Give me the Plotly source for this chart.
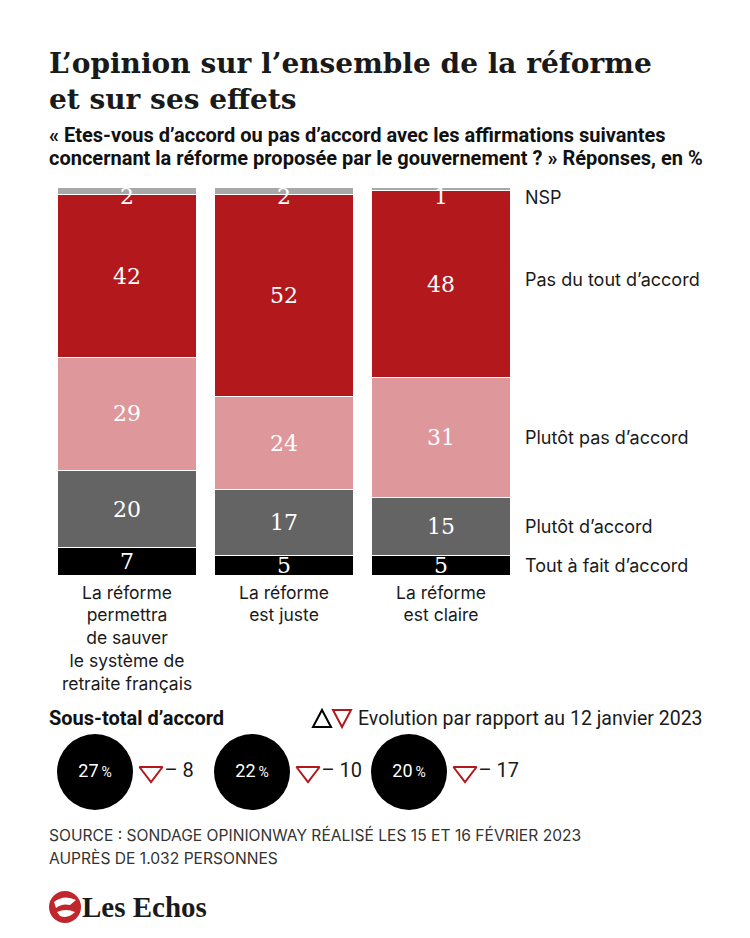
import plotly.graph_objects as go

# ---------------- data ----------------
categories = [
    "La réforme<br>permettra<br>de sauver<br>le système de<br>retraite français",
    "La réforme<br>est juste",
    "La réforme<br>est claire",
]
series_names = ["Tout à fait d’accord", "Plutôt d’accord", "Plutôt pas d’accord",
                "Pas du tout d’accord", "NSP"]
tout_a_fait = [7, 5, 5]
plutot = [20, 17, 15]
plutot_pas = [29, 24, 31]
pas_du_tout = [42, 52, 48]
nsp = [2, 2, 1]
sous_total = [27, 22, 20]
evolution = [-8, -10, -17]

colors = ["#000000", "#646464", "#de979a", "#b2181c", "#a8a8a8"]
series = [tout_a_fait, plutot, plutot_pas, pas_du_tout, nsp]
label_yshift = [0, 0, 0, 5, 2]

# page has an 8px body margin: the figure starts at (8, 8)
OFF = 8
W, H = 750 - OFF, 938 - OFF
def px(x):
    return (x - OFF) / W
def py(y):
    return 1 - (y - OFF) / H

SANS = "Inter, Roboto, Arial, sans-serif"
SANS2 = "Roboto, Arial, sans-serif"
SERIF = "DejaVu Serif, serif"

fig = go.Figure()
idx = list(range(len(categories)))
for name, vals, col in zip(series_names, series, colors):
    fig.add_trace(go.Bar(
        x=idx, y=vals, name=name, marker=dict(color=col, line=dict(color="white", width=1)),
        width=0.89, hoverinfo="skip", showlegend=False,
    ))

annotations = []
# value labels inside bars
base = [0] * len(categories)
for si, vals in enumerate(series):
    for ci, v in enumerate(vals):
        if si == len(series) - 1:
            annotations.append(dict(x=ci, y=base[ci] + v, xref="x", yref="y", text=str(v),
                                    showarrow=False, yanchor="top", yshift=5,
                                    font=dict(family=SERIF, size=22, color="white")))
        else:
            annotations.append(dict(x=ci, y=base[ci] + v / 2, xref="x", yref="y", text=str(v),
                                    showarrow=False, yanchor="middle",
                                    font=dict(family=SERIF, size=22, color="white")))
        base[ci] += v

# series labels on the right, aligned to last bar
last = len(categories) - 1
cum = 0
for si, (name, vals) in enumerate(zip(series_names, series)):
    v = vals[last]
    if si == len(series) - 1:
        y = cum + v
        ya = "top"
    else:
        y = cum + v / 2
        ya = "middle"
    annotations.append(dict(x=px(523), y=y, xref="paper", yref="y", text=name, showarrow=False,
                            xanchor="left", yanchor=ya, yshift=label_yshift[si],
                            font=dict(family=SANS, size=18, color="#1a1a1a")))
    cum += v

# circles (sous-total) and evolution
fig.add_trace(go.Scatter(
    x=idx, y=[0] * len(idx), xaxis="x2", yaxis="y2", mode="markers+text",
    marker=dict(size=76, color="black", line=dict(width=0)),
    text=[f"{s}<span style='font-size:14px'>\u2009%</span>" for s in sous_total],
    textposition="middle center", cliponaxis=False,
    textfont=dict(family=SANS2, size=18, color="white"),
    hoverinfo="skip", showlegend=False,
))
fig.add_trace(go.Scatter(
    x=idx, y=[0] * len(idx), xaxis="x3", yaxis="y2", mode="markers+text",
    marker=dict(symbol="triangle-down-open", size=20, color="#b2181c",
                line=dict(width=2, color="#b2181c")),
    text=[f"– {abs(e)}" for e in evolution],
    textposition="middle right", cliponaxis=False,
    textfont=dict(family=SANS2, size=20, color="#1a1a1a"),
    hoverinfo="skip", showlegend=False,
))

# titles and texts
annotations += [
    dict(x=px(47), y=py(45), xref="paper", yref="paper", xanchor="left", yanchor="top",
         align="left", showarrow=False,
         text="<b>L’opinion sur l’ensemble de la réforme<br>et sur ses effets</b>",
         font=dict(family=SERIF, size=28, color="#1a1a1a")),
    dict(x=px(47), y=py(135), xref="paper", yref="paper", xanchor="left", yanchor="middle",
         align="left", showarrow=False,
         text="<b>« Etes-vous d’accord ou pas d’accord avec les affirmations suivantes</b>",
         font=dict(family=SANS2, size=20, color="#111111")),
    dict(x=px(47), y=py(158), xref="paper", yref="paper", xanchor="left", yanchor="middle",
         align="left", showarrow=False,
         text="<b>concernant la réforme proposée par le gouvernement ? » Réponses, en %</b>",
         font=dict(family=SANS2, size=20, color="#111111")),
    dict(x=px(47), y=py(718), xref="paper", yref="paper", xanchor="left", yanchor="middle",
         showarrow=False, text="<b>Sous-total d’accord</b>",
         font=dict(family=SANS2, size=20, color="#111111")),
    dict(x=px(356), y=py(718), xref="paper", yref="paper", xanchor="left", yanchor="middle",
         showarrow=False, text="Evolution par rapport au 12 janvier 2023",
         font=dict(family=SANS2, size=19.5, color="#1a1a1a")),
    dict(x=px(47), y=py(835), xref="paper", yref="paper", xanchor="left", yanchor="middle",
         align="left", showarrow=False,
         text="SOURCE : SONDAGE OPINIONWAY RÉALISÉ LES 15 ET 16 FÉVRIER 2023",
         font=dict(family=SANS, size=15.6, color="#333333")),
    dict(x=px(47), y=py(858), xref="paper", yref="paper", xanchor="left", yanchor="middle",
         align="left", showarrow=False,
         text="AUPRÈS DE 1.032 PERSONNES",
         font=dict(family=SANS, size=15.6, color="#333333")),
    dict(x=px(80), y=py(907), xref="paper", yref="paper", xanchor="left", yanchor="middle",
         showarrow=False, text="<b>Les Echos</b>",
         font=dict(family="Liberation Serif, serif", size=29, color="#1a1a1a")),
]

shapes = [
    # legend triangles
    dict(type="path", xref="paper", yref="paper",
         path=f"M {px(313)},{py(727)} L {px(331)},{py(727)} L {px(322)},{py(710)} Z",
         line=dict(color="black", width=2)),
    dict(type="path", xref="paper", yref="paper",
         path=f"M {px(333)},{py(710)} L {px(351)},{py(710)} L {px(342)},{py(727)} Z",
         line=dict(color="#b2181c", width=2)),
    # logo circle
    dict(type="circle", xref="paper", yref="paper",
         x0=px(49), x1=px(81), y0=py(923), y1=py(891),
         fillcolor="#c0262b", line=dict(width=0)),
    dict(type="path", xref="paper", yref="paper",
         path=f"M {px(54)},{py(902)} Q {px(64)},{py(894)} {px(76)},{py(900)} "
              f"L {px(70)},{py(905)} Q {px(62)},{py(903)} {px(56)},{py(908)} Z",
         fillcolor="white", line=dict(width=0)),
    dict(type="path", xref="paper", yref="paper",
         path=f"M {px(57)},{py(912)} Q {px(66)},{py(908)} {px(75)},{py(912)} "
              f"Q {px(68)},{py(919)} {px(60)},{py(916)} Z",
         fillcolor="white", line=dict(width=0)),
]

fig.update_layout(
    width=W, height=H, margin=dict(l=0, r=0, t=0, b=0),
    paper_bgcolor="white", plot_bgcolor="rgba(0,0,0,0)",
    barmode="stack", bargap=0.11,
    annotations=annotations, shapes=shapes,
    xaxis=dict(domain=[px(48.5), px(519.5)], range=[-0.5, 2.5], tickmode="array",
               tickvals=idx, ticktext=categories, showgrid=False, zeroline=False,
               showline=False, ticks="", ticklabelstandoff=5,
               tickfont=dict(family=SANS, size=17.5, color="#1a1a1a"), fixedrange=True),
    yaxis=dict(domain=[py(575), py(187)], range=[0, 100], visible=False, fixedrange=True),
    xaxis2=dict(domain=[px(16.5), px(487.5)], range=[-0.5, 2.5], visible=False,
                anchor="y2", fixedrange=True),
    xaxis3=dict(domain=[px(72.5), px(543.5)], range=[-0.5, 2.5], visible=False,
                anchor="y2", fixedrange=True),
    yaxis2=dict(domain=[py(812), py(732)], range=[-1, 1], visible=False, anchor="x2",
                fixedrange=True),
)

fig.write_html("out.html")
